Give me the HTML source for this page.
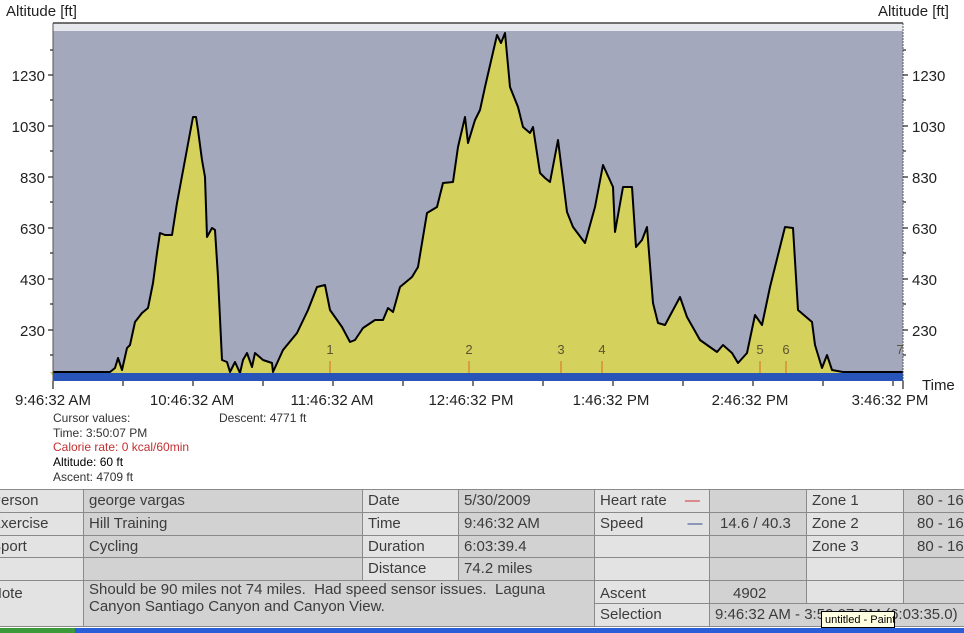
<!DOCTYPE html>
<html><head><meta charset="utf-8"><style>
html,body{margin:0;padding:0;background:#fff;width:964px;height:633px;overflow:hidden;position:relative;font-family:"Liberation Sans",Arial,sans-serif;}
.c{position:absolute;box-sizing:border-box;border-right:1px solid #8a8a8a;border-bottom:1px solid #8a8a8a;font-size:15px;color:#3c3c3c;padding:2px 0 0 5px;white-space:nowrap;overflow:hidden;line-height:18px;}
.l{background:#e3e3e3;}
.v{background:#d2d2d2;}
.ct{position:absolute;font-size:12px;color:#333;line-height:14px;}
</style></head><body>
<svg width="964" height="420" style="position:absolute;left:0;top:0" font-family="Liberation Sans, Arial, sans-serif">
<rect x="53" y="23" width="850" height="358" fill="#a3a8bc"/>
<rect x="53" y="23" width="850" height="8" fill="#e6e8ee"/>
<line x1="53" y1="23" x2="903" y2="23" stroke="#444" stroke-width="1.5"/>
<polygon fill="#d4d15c" stroke="none" points="50,372 110,372 115,368 118,358 122,370 127,348 130,345 135,322 142,313 148,308 153,283 157,253 160,233 165,235 172,235 177,203 185,160 190,133 193,117 196,117 198,130 202,160 205,177 207,237 212,228 215,230 218,277 222,360 227,362 230,372 235,362 240,373 243,360 247,353 252,367 255,353 263,360 272,363 273,372 283,350 297,333 308,310 317,287 325,285 330,310 342,327 350,342 355,340 363,328 375,320 383,320 388,308 393,312 400,287 412,277 418,267 427,213 437,207 443,183 453,182 458,147 465,117 468,143 475,120 480,110 485,87 497,35 501,43 505,33 510,87 518,107 523,127 530,133 533,127 540,173 545,178 550,182 558,140 567,212 573,227 585,243 595,207 603,165 613,187 615,232 623,187 632,187 636,247 642,240 647,227 653,303 658,323 665,325 680,297 687,317 700,340 717,352 723,345 732,353 738,363 747,353 755,315 762,325 770,287 785,227 793,228 798,310 812,322 815,345 822,368 827,355 832,370 843,372 903,372 903,376 53,376"/>
<polyline fill="none" stroke="#000" stroke-width="2" stroke-linejoin="round" points="53,372 110,372 115,368 118,358 122,370 127,348 130,345 135,322 142,313 148,308 153,283 157,253 160,233 165,235 172,235 177,203 185,160 190,133 193,117 196,117 198,130 202,160 205,177 207,237 212,228 215,230 218,277 222,360 227,362 230,372 235,362 240,373 243,360 247,353 252,367 255,353 263,360 272,363 273,372 283,350 297,333 308,310 317,287 325,285 330,310 342,327 350,342 355,340 363,328 375,320 383,320 388,308 393,312 400,287 412,277 418,267 427,213 437,207 443,183 453,182 458,147 465,117 468,143 475,120 480,110 485,87 497,35 501,43 505,33 510,87 518,107 523,127 530,133 533,127 540,173 545,178 550,182 558,140 567,212 573,227 585,243 595,207 603,165 613,187 615,232 623,187 632,187 636,247 642,240 647,227 653,303 658,323 665,325 680,297 687,317 700,340 717,352 723,345 732,353 738,363 747,353 755,315 762,325 770,287 785,227 793,228 798,310 812,322 815,345 822,368 827,355 832,370 843,372 903,372"/>
<rect x="53" y="373" width="850" height="8" fill="#2a55b8"/>
<g stroke="#d86a20" stroke-width="1">
<line x1="330" y1="361" x2="330" y2="373"/><line x1="469" y1="361" x2="469" y2="373"/><line x1="561" y1="361" x2="561" y2="373"/><line x1="602" y1="361" x2="602" y2="373"/><line x1="760" y1="361" x2="760" y2="373"/><line x1="786" y1="361" x2="786" y2="373"/></g>
<g font-size="13" fill="#5a5530" text-anchor="middle">
<text x="330" y="354">1</text><text x="469" y="354">2</text><text x="561" y="354">3</text><text x="602" y="354">4</text><text x="760" y="354">5</text><text x="786" y="354">6</text><text x="900" y="354">7</text></g>
<line x1="53" y1="23" x2="53" y2="381" stroke="#555"/>
<line x1="903" y1="23" x2="903" y2="381" stroke="#555" stroke-dasharray="2,1"/>
<g stroke="#222" stroke-width="1.2">
<line x1="48" y1="75" x2="53" y2="75"/><line x1="48" y1="126" x2="53" y2="126"/><line x1="48" y1="177" x2="53" y2="177"/><line x1="48" y1="228" x2="53" y2="228"/><line x1="48" y1="279" x2="53" y2="279"/><line x1="48" y1="330" x2="53" y2="330"/>
<line x1="50" y1="50" x2="53" y2="50"/><line x1="50" y1="100" x2="53" y2="100"/><line x1="50" y1="151" x2="53" y2="151"/><line x1="50" y1="202" x2="53" y2="202"/><line x1="50" y1="253" x2="53" y2="253"/><line x1="50" y1="304" x2="53" y2="304"/><line x1="50" y1="355" x2="53" y2="355"/>
<line x1="903" y1="75" x2="908" y2="75"/><line x1="903" y1="126" x2="908" y2="126"/><line x1="903" y1="177" x2="908" y2="177"/><line x1="903" y1="228" x2="908" y2="228"/><line x1="903" y1="279" x2="908" y2="279"/><line x1="903" y1="330" x2="908" y2="330"/>
<line x1="903" y1="50" x2="906" y2="50"/><line x1="903" y1="100" x2="906" y2="100"/><line x1="903" y1="151" x2="906" y2="151"/><line x1="903" y1="202" x2="906" y2="202"/><line x1="903" y1="253" x2="906" y2="253"/><line x1="903" y1="304" x2="906" y2="304"/><line x1="903" y1="355" x2="906" y2="355"/>
<line x1="53" y1="381" x2="53" y2="389"/><line x1="123" y1="381" x2="123" y2="386"/><line x1="193" y1="381" x2="193" y2="386"/><line x1="263" y1="381" x2="263" y2="386"/><line x1="333" y1="381" x2="333" y2="386"/><line x1="403" y1="381" x2="403" y2="386"/><line x1="473" y1="381" x2="473" y2="386"/><line x1="543" y1="381" x2="543" y2="386"/><line x1="613" y1="381" x2="613" y2="386"/><line x1="683" y1="381" x2="683" y2="386"/><line x1="753" y1="381" x2="753" y2="386"/><line x1="823" y1="381" x2="823" y2="386"/><line x1="893" y1="381" x2="893" y2="386"/><line x1="903" y1="381" x2="903" y2="389"/>
</g>
<g font-size="15" fill="#222">
<text x="6" y="16">Altitude [ft]</text>
<text x="878" y="16">Altitude [ft]</text>
<g text-anchor="end"><text x="45" y="81">1230</text><text x="45" y="132">1030</text><text x="45" y="183">830</text><text x="45" y="234">630</text><text x="45" y="285">430</text><text x="45" y="336">230</text></g>
<g><text x="912" y="81">1230</text><text x="912" y="132">1030</text><text x="912" y="183">830</text><text x="912" y="234">630</text><text x="912" y="285">430</text><text x="912" y="336">230</text></g>
<g text-anchor="middle"><text x="53" y="405">9:46:32 AM</text><text x="192" y="405">10:46:32 AM</text><text x="332" y="405">11:46:32 AM</text><text x="471" y="405">12:46:32 PM</text><text x="611" y="405">1:46:32 PM</text><text x="750" y="405">2:46:32 PM</text><text x="890" y="405">3:46:32 PM</text></g>
<text x="922" y="390">Time</text>
</g>
</svg>
<div class="ct" style="left:53px;top:411px">Cursor values:</div>
<div class="ct" style="left:219px;top:411px">Descent: 4771 ft</div>
<div class="ct" style="left:53px;top:426px">Time: 3:50:07 PM</div>
<div class="ct" style="left:53px;top:440px;color:#c03030">Calorie rate: 0 kcal/60min</div>
<div class="ct" style="left:53px;top:455px;color:#000">Altitude: 60 ft</div>
<div class="ct" style="left:53px;top:470px">Ascent: 4709 ft</div>
<div style="position:absolute;left:0;top:489px;width:964px;height:1px;background:#8a8a8a"></div>
<!-- row 1 -->
<div class="c l" style="left:0;top:490px;width:84px;height:23px;text-indent:-14px">Person</div>
<div class="c v" style="left:84px;top:490px;width:279px;height:23px">george vargas</div>
<div class="c l" style="left:363px;top:490px;width:96px;height:23px">Date</div>
<div class="c v" style="left:459px;top:490px;width:136px;height:23px">5/30/2009</div>
<div class="c l" style="left:595px;top:490px;width:115px;height:23px">Heart rate <span style="color:#d03030;margin-left:14px">—</span></div>
<div class="c v" style="left:710px;top:490px;width:97px;height:23px"></div>
<div class="c l" style="left:807px;top:490px;width:97px;height:23px">Zone 1</div>
<div class="c v" style="left:904px;top:490px;width:70px;height:23px;padding-left:13px">80 - 160</div>
<!-- row 2 -->
<div class="c l" style="left:0;top:513px;width:84px;height:23px;text-indent:-14px">Exercise</div>
<div class="c v" style="left:84px;top:513px;width:279px;height:23px">Hill Training</div>
<div class="c l" style="left:363px;top:513px;width:96px;height:23px">Time</div>
<div class="c v" style="left:459px;top:513px;width:136px;height:23px">9:46:32 AM</div>
<div class="c l" style="left:595px;top:513px;width:115px;height:23px">Speed <span style="color:#304a90;margin-left:40px">—</span></div>
<div class="c v" style="left:710px;top:513px;width:97px;height:23px;padding-left:10px">14.6 / 40.3</div>
<div class="c l" style="left:807px;top:513px;width:97px;height:23px">Zone 2</div>
<div class="c v" style="left:904px;top:513px;width:70px;height:23px;padding-left:13px">80 - 160</div>
<!-- row 3 -->
<div class="c l" style="left:0;top:536px;width:84px;height:22px;text-indent:-14px">Sport</div>
<div class="c v" style="left:84px;top:536px;width:279px;height:22px">Cycling</div>
<div class="c l" style="left:363px;top:536px;width:96px;height:22px">Duration</div>
<div class="c v" style="left:459px;top:536px;width:136px;height:22px">6:03:39.4</div>
<div class="c l" style="left:595px;top:536px;width:115px;height:22px"></div>
<div class="c v" style="left:710px;top:536px;width:97px;height:22px"></div>
<div class="c l" style="left:807px;top:536px;width:97px;height:22px">Zone 3</div>
<div class="c v" style="left:904px;top:536px;width:70px;height:22px;padding-left:13px">80 - 160</div>
<!-- row 4 -->
<div class="c l" style="left:0;top:558px;width:84px;height:23px"></div>
<div class="c v" style="left:84px;top:558px;width:279px;height:23px"></div>
<div class="c l" style="left:363px;top:558px;width:96px;height:23px">Distance</div>
<div class="c v" style="left:459px;top:558px;width:136px;height:23px">74.2 miles</div>
<div class="c l" style="left:595px;top:558px;width:115px;height:23px"></div>
<div class="c v" style="left:710px;top:558px;width:97px;height:23px"></div>
<div class="c l" style="left:807px;top:558px;width:97px;height:23px"></div>
<div class="c v" style="left:904px;top:558px;width:70px;height:23px"></div>
<!-- row 5/6 -->
<div class="c l" style="left:0;top:581px;width:84px;height:46px;text-indent:-14px;padding-top:4px">Note</div>
<div class="c v" style="left:84px;top:581px;width:511px;height:46px;white-space:normal;line-height:17px;padding-top:0">Should be 90 miles not 74 miles.&nbsp; Had speed sensor issues.&nbsp; Laguna Canyon Santiago Canyon and Canyon View.</div>
<div class="c l" style="left:595px;top:581px;width:115px;height:23px;padding-top:4px">Ascent</div>
<div class="c v" style="left:710px;top:581px;width:97px;height:23px;padding-left:23px;padding-top:4px">4902</div>
<div class="c l" style="left:807px;top:581px;width:97px;height:23px"></div>
<div class="c v" style="left:904px;top:581px;width:70px;height:23px"></div>
<div class="c l" style="left:595px;top:604px;width:115px;height:23px">Selection</div>
<div class="c v" style="left:710px;top:604px;width:264px;height:23px">9:46:32 AM - 3:50:07 PM (6:03:35.0)</div>
<div style="position:absolute;left:821px;top:611px;width:74px;height:17px;background:#ffffe1;border:1px solid #000;font-size:11px;line-height:16px;padding-left:3px;box-sizing:border-box;color:#000;white-space:nowrap;z-index:3">untitled - Paint</div>
<div style="position:absolute;left:0;top:628px;width:964px;height:5px;background:#2a5ed8"></div>
<div style="position:absolute;left:0;top:628px;width:75px;height:5px;background:#3c9a3c"></div>
</body></html>
